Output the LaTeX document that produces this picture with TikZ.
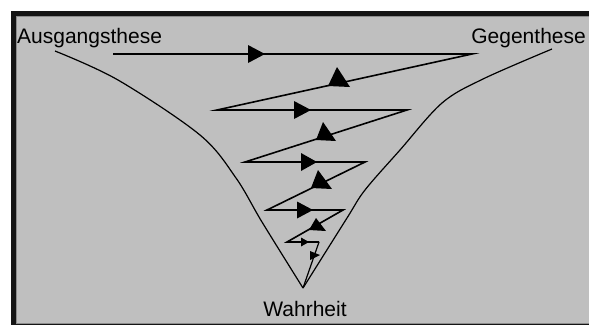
\documentclass[tikz,border=0pt]{standalone}
\usepackage{fontspec}
\setmainfont{Liberation Sans}
\begin{document}
\begin{tikzpicture}[x=1pt,y=-1pt,
  lbl/.style={inner sep=0pt,font=\fontsize{21}{25}\selectfont},
  zig/.style={line width=1.6pt,black,line join=miter},
  funnel/.style={line width=1.2pt,black},
  head/.style={fill=black}]
\useasboundingbox (0,0) rectangle (589,325);
\fill[white] (0,0) rectangle (589,325);
\fill[black!92] (11,11) rectangle (589,325);
\fill[black!45] (16,16) rectangle (589,323.5);
\fill[black!25] (17,17) rectangle (589,322.5);
% labels
\node[lbl,anchor=base west] (aus) at (17,43) {Ausgangsthese};
\node[lbl,anchor=base east] (geg) at (586,43) {Gegenthese};
\node[lbl,anchor=base] (wahr) at (305,316) {Wahrheit};
% funnel
\coordinate (tip) at (303,288);
\coordinate (ls) at (55,51);
\coordinate (rs) at (552,49);
\draw[funnel] plot[smooth,tension=0.55] coordinates {(ls) (118,80) (200,135) (236,178) (262,222) (tip)};
\draw[funnel] plot[smooth,tension=0.55] coordinates {(rs) (483,79) (442,103) (400,150) (365,190) (347,218) (tip)};
% zigzag
\coordinate (z0) at (113,54);
\coordinate (z1) at (472,54);
\coordinate (z2) at (217,110);
\coordinate (z3) at (407,110);
\coordinate (z4) at (245,162);
\coordinate (z5) at (365,162);
\coordinate (z6) at (267,210);
\coordinate (z7) at (343,210);
\coordinate (z8) at (287,242);
\coordinate (z9) at (319,242);
\draw[zig] (z0) -- (z1) -- (z2) -- (z3) -- (z4) -- (z5) -- (z6) -- (z7) -- (z8) -- (z9);
\draw[line width=1.2pt] (z9) -- (tip);
% right-pointing heads
\fill[head] (248,45) -- (265,54) -- (248,63) -- cycle;
\fill[head] (294,101) -- (311,110) -- (294,119) -- cycle;
\fill[head] (301,153) -- (317,162) -- (301,171) -- cycle;
\fill[head] (297,201.5) -- (313,210) -- (297,218.5) -- cycle;
\fill[head] (301,237.5) -- (309,242) -- (301,246.5) -- cycle;
% upward heads
\fill[head] (337,67) -- (350,87) -- (328,86) -- cycle;
\fill[head] (323,122) -- (336,141) -- (316,140) -- cycle;
\fill[head] (318,170) -- (332,189) -- (311,188) -- cycle;
\fill[head] (316,218) -- (326,231) -- (309,230) -- cycle;
\fill[head] (310,251) -- (320,255) -- (310,260) -- cycle;
\end{tikzpicture}
\end{document}
